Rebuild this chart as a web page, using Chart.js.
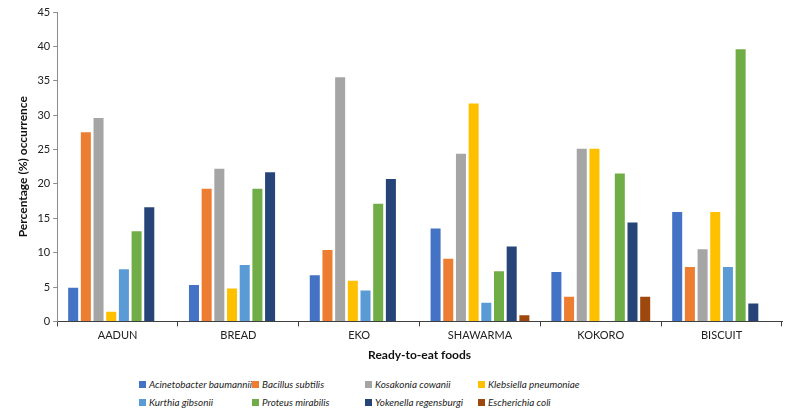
<!DOCTYPE html>
<html>
<head>
<meta charset="utf-8">
<script src="https://cdn.jsdelivr.net/npm/chart.js@4"></script>
<style>
  html, body { margin: 0; padding: 0; background: #fff; }
  #wrap { position: relative; width: 794px; height: 418px; }
  #chartBox { position: absolute; left: 0; top: 0; width: 794px; height: 366px; }
  #legend {
    position: absolute; left: 139px; top: 377px;
    display: grid; grid-template-columns: 113px 113px 113px 150px;
    row-gap: 4px;
    font-family: Lato, "Open Sans", sans-serif; font-style: italic; font-size: 9.9px; color: #222;
  }
  #legend .item { display: flex; align-items: center; height: 14px; white-space: nowrap; }
  #legend .box { width: 7px; height: 7px; margin-right: 3px; flex: none; }
</style>
</head>
<body>
<div id="wrap">
  <div id="chartBox"><canvas id="chart"></canvas></div>
  <div id="legend"></div>
</div>
<script>
// categories and series
const foods = ["AADUN", "BREAD", "EKO", "SHAWARMA", "KOKORO", "BISCUIT"];

const acinetobacter = [4.9, 5.3, 6.7, 13.5, 7.2, 15.9];
const bacillus      = [27.5, 19.3, 10.4, 9.1, 3.6, 7.9];
const kosakonia     = [29.6, 22.2, 35.5, 24.4, 25.1, 10.5];
const klebsiella    = [1.4, 4.8, 5.9, 31.7, 25.1, 15.9];
const kurthia       = [7.6, 8.2, 4.5, 2.7, 0, 7.9];
const proteus       = [13.1, 19.3, 17.1, 7.3, 21.5, 39.6];
const yokenella     = [16.6, 21.7, 20.7, 10.9, 14.4, 2.6];
const escherichia   = [0, 0, 0, 0.9, 3.6, 0];

const yTicks = [0, 5, 10, 15, 20, 25, 30, 35, 40, 45];

const series = [
    { label: "Acinetobacter baumannii", data: acinetobacter, color: "#4472C4" },
    { label: "Bacillus subtilis", data: bacillus, color: "#ED7D31" },
    { label: "Kosakonia cowanii", data: kosakonia, color: "#A5A5A5" },
    { label: "Klebsiella pneumoniae", data: klebsiella, color: "#FFC000" },
    { label: "Kurthia gibsonii", data: kurthia, color: "#5B9BD5" },
    { label: "Proteus mirabilis", data: proteus, color: "#70AD47" },
    { label: "Yokenella regensburgi", data: yokenella, color: "#264478" },
    { label: "Escherichia coli", data: escherichia, color: "#9E480E" }
];

const font = "Lato, 'Open Sans', sans-serif";

// -------- CHART --------
const ctx = document.getElementById("chart").getContext("2d");

new Chart(ctx, {
    type: "bar",
    data: {
        labels: foods,
        datasets: series.map(s => ({
            label: s.label,
            data: s.data,
            backgroundColor: s.color,
            borderWidth: 0,
            categoryPercentage: 0.84,
            barPercentage: 0.79
        }))
    },
    options: {
        responsive: true,
        maintainAspectRatio: false,
        animation: false,
        layout: { padding: { left: 12, right: 12, top: 12, bottom: 0 } },
        plugins: {
            legend: { display: false },
            tooltip: { enabled: false }
        },
        scales: {
            x: {
                grid: {
                    offset: true,
                    drawOnChartArea: false,
                    tickLength: 5,
                    color: "#404040"
                },
                border: { color: "#404040", width: 1 },
                ticks: { font: { family: font, size: 11 }, color: "#222", padding: 2 },
                title: {
                    display: true,
                    text: "Ready-to-eat foods",
                    font: { family: font, size: 12, weight: "bold" },
                    color: "#111",
                    padding: { top: 4 }
                }
            },
            y: {
                min: 0,
                max: 45,
                afterBuildTicks: axis => {
                    axis.ticks = yTicks.map(v => ({ value: v }));
                },
                grid: {
                    drawOnChartArea: false,
                    tickLength: 4,
                    color: "#8c8c8c"
                },
                border: { color: "#8c8c8c", width: 1 },
                ticks: { font: { family: font, size: 11 }, color: "#222", padding: 3 },
                title: {
                    display: true,
                    text: "Percentage (%) occurrence",
                    font: { family: font, size: 12, weight: "bold" },
                    color: "#111",
                    padding: { bottom: 4 }
                }
            }
        }
    }
});

// -------- LEGEND --------
const legendEl = document.getElementById("legend");
series.forEach(s => {
    const item = document.createElement("div");
    item.className = "item";
    const box = document.createElement("span");
    box.className = "box";
    box.style.background = s.color;
    item.appendChild(box);
    item.appendChild(document.createTextNode(s.label));
    legendEl.appendChild(item);
});
</script>
</body>
</html>
